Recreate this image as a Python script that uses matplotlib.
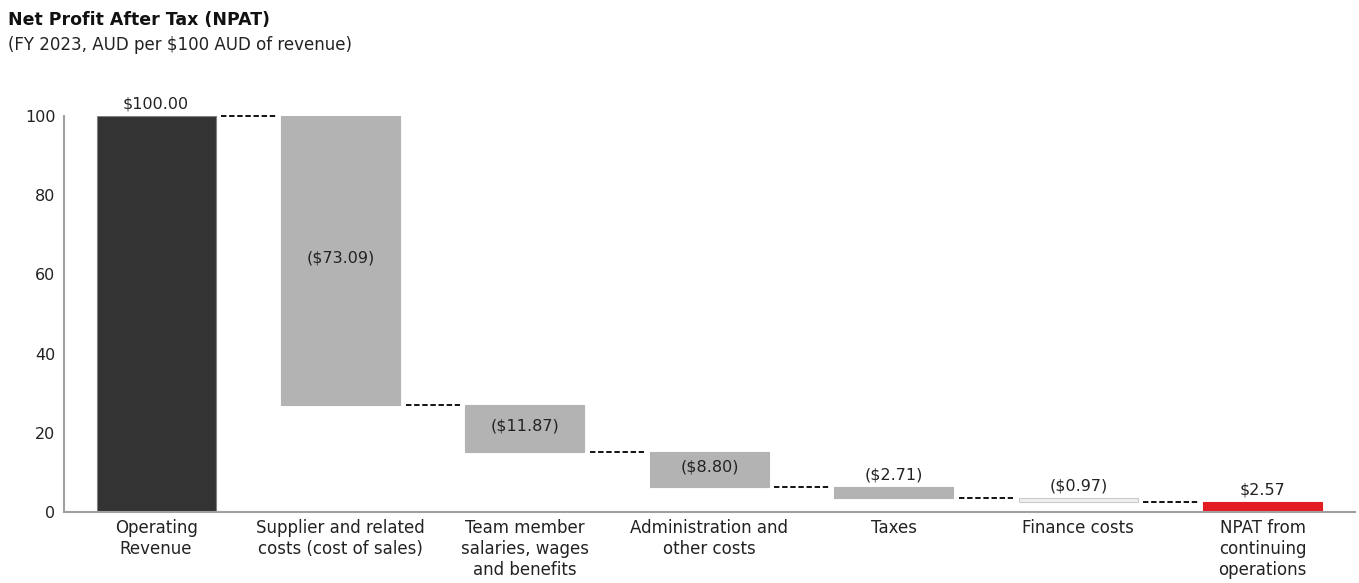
import numpy as np
import matplotlib.pyplot as plt

plt.rcParams['font.family'] = ['DejaVu Sans']

categories = ["Operating\nRevenue", "Supplier and related\ncosts (cost of sales)",
              "Team member\nsalaries, wages\nand benefits", "Administration and\nother costs",
              "Taxes", "Finance costs", "NPAT from\ncontinuing\noperations"]
changes = [100.00, -73.09, -11.87, -8.80, -2.71, -0.97]
npat = 2.57
labels = ["$100.00", "($73.09)", "($11.87)", "($8.80)", "($2.71)", "($0.97)", "$2.57"]
colors = ["#333333", "#b3b3b3", "#b3b3b3", "#b3b3b3", "#b3b3b3", "#eeeeee", "#e31b23"]
edges = ["#808080", "#b3b3b3", "#b3b3b3", "#b3b3b3", "#b3b3b3", "#cccccc", "#e31b23"]

# running totals for the floating bars
ends = np.cumsum(changes)
starts = ends - np.array(changes)
bottoms = list(np.minimum(starts, ends)) + [0]
heights = list(np.abs(changes)) + [npat]
tops = [b + h for b, h in zip(bottoms, heights)]

fig = plt.figure(figsize=(13.59, 5.83), dpi=100)
ax = fig.add_axes([0.047, 0.1218, 0.95, 0.679])
x = np.arange(len(categories))
w = 0.645
ax.bar(x, heights, width=w, bottom=bottoms, color=colors, edgecolor=edges, linewidth=0.8)

# dashed connectors between bars
levels = list(ends)
for i in range(len(levels)):
    ax.plot([x[i] + w / 2 + 0.03, x[i + 1] - w / 2 - 0.03], [levels[i], levels[i]],
            color="black", linestyle=(0, (3, 1.5)), linewidth=1.3, clip_on=False)

for i, lab in enumerate(labels):
    if heights[i] > 5 and i > 0:
        ax.text(x[i], bottoms[i] + heights[i] / 2 + 0.8, lab, ha="center", va="center",
                fontsize=11.5, color="#222222")
    else:
        ax.text(x[i], tops[i] + 1.2, lab, ha="center", va="bottom",
                fontsize=11.5, color="#222222")

ax.set_xlim(-0.5, 6.5)
ax.set_ylim(0, 100)
ax.set_yticks([0, 20, 40, 60, 80, 100])
ax.set_xticks(x)
ax.set_xticklabels(categories, fontsize=12, color="#222222", linespacing=1.2)
ax.tick_params(axis="both", length=0, colors="#222222")
ax.tick_params(axis="y", pad=6, labelsize=11.5)
ax.tick_params(axis="x", pad=5)
for s in ["top", "right"]:
    ax.spines[s].set_visible(False)
for s in ["left", "bottom"]:
    ax.spines[s].set_color("#a0a0a0")
    ax.spines[s].set_linewidth(1.5)

fig.text(0.006, 0.965, "Net Profit After Tax (NPAT)", fontsize=12.5, fontweight="bold",
         va="center", color="#111111")
fig.text(0.006, 0.922, "(FY 2023, AUD per $100 AUD of revenue)", fontsize=12,
         va="center", color="#222222")

fig.savefig("out.png", dpi=100)
